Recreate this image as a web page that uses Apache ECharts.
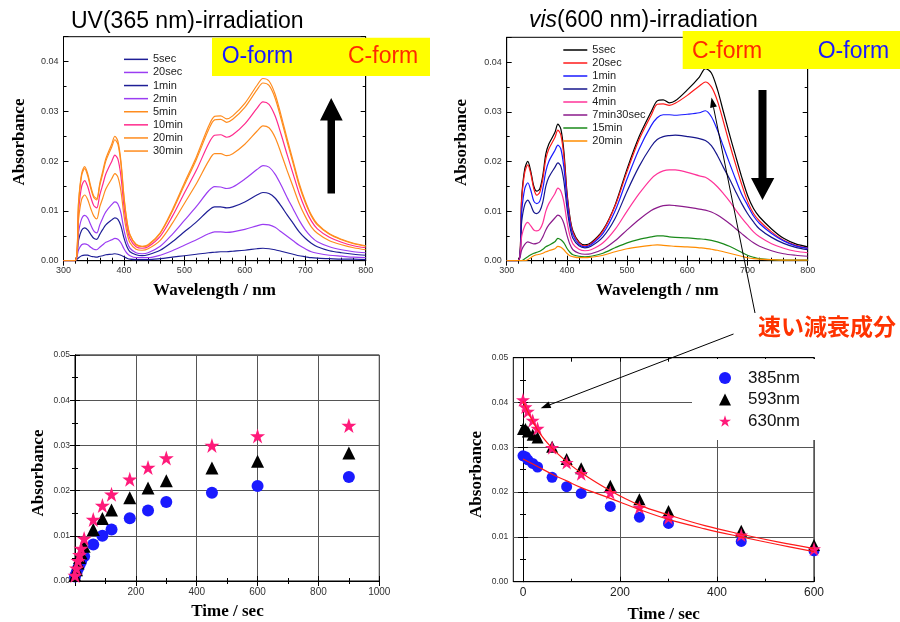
<!DOCTYPE html>
<html><head><meta charset="utf-8">
<script src="https://cdn.jsdelivr.net/npm/echarts@6/dist/echarts.min.js"></script>
<style>html,body{margin:0;padding:0;background:#fff}#c{width:900px;height:622px}</style>
</head><body><div id="c"></div>
<script>
// ---------- DATA ----------
const wavelengths = [300,319,325,330,335, 340,345,350,355,360, 365,370,380,385,390, 395,400,405,410,420, 430,440,460,480,500, 520,540,550,560,570, 580,600,620,630,640, 650,660,670,680,690, 700,710,720,740,760, 780,800];

const uvNames = ['5sec','20sec','1min','2min','5min','10min','20min','30min'];
const uv_5sec  = [0,0,0.0006,0.0010,0.0011, 0.0011,0.0009,0.0008,0.0007,0.0009, 0.0010,0.0012,0.0013,0.0014,0.0013, 0.0011,0.0008,0.0005,0.0003,0.0002, 0.0002,0.0002,0.0004,0.0007,0.0010, 0.0013,0.0016,0.0017,0.0018,0.0018, 0.0019,0.0021,0.0024,0.0025,0.0024, 0.0022,0.0019,0.0016,0.0013,0.0010, 0.0008,0.0006,0.0005,0.0004,0.0003, 0.0003,0.0002];
const uv_20sec = [0,0,0.0022,0.0032,0.0034, 0.0032,0.0027,0.0023,0.0022,0.0027, 0.0032,0.0037,0.0042,0.0045,0.0043, 0.0036,0.0024,0.0015,0.0010,0.0006, 0.0006,0.0006,0.0011,0.0020,0.0031, 0.0042,0.0054,0.0058,0.0058,0.0057, 0.0058,0.0063,0.0070,0.0073,0.0072, 0.0067,0.0058,0.0049,0.0040,0.0031, 0.0024,0.0018,0.0015,0.0011,0.0009, 0.0007,0.0006];
const uv_1min  = [0,0,0.0042,0.0061,0.0066, 0.0062,0.0053,0.0045,0.0043,0.0053, 0.0063,0.0072,0.0082,0.0086,0.0083, 0.0070,0.0046,0.0028,0.0018,0.0012, 0.0010,0.0012,0.0021,0.0038,0.0058, 0.0078,0.0101,0.0108,0.0108,0.0106, 0.0108,0.0118,0.0132,0.0137,0.0135, 0.0126,0.0110,0.0092,0.0075,0.0058, 0.0045,0.0035,0.0028,0.0020,0.0016, 0.0013,0.0011];
const uv_2min  = [0,0,0.0058,0.0084,0.0091, 0.0086,0.0072,0.0060,0.0056,0.0072, 0.0086,0.0098,0.0113,0.0118,0.0114, 0.0096,0.0062,0.0038,0.0025,0.0016, 0.0014,0.0016,0.0029,0.0053,0.0081, 0.0109,0.0140,0.0149,0.0148,0.0145, 0.0148,0.0164,0.0183,0.0191,0.0188, 0.0174,0.0152,0.0127,0.0104,0.0081, 0.0062,0.0048,0.0038,0.0028,0.0022, 0.0018,0.0016];
const uv_5min  = [0,0,0.0084,0.0123,0.0132, 0.0123,0.0105,0.0090,0.0084,0.0108, 0.0126,0.0144,0.0165,0.0175,0.0168, 0.0140,0.0091,0.0056,0.0036,0.0023, 0.0021,0.0024,0.0041,0.0075,0.0115, 0.0155,0.0200,0.0215,0.0215,0.0211, 0.0215,0.0234,0.0260,0.0271,0.0267, 0.0248,0.0216,0.0181,0.0148,0.0115, 0.0089,0.0068,0.0055,0.0040,0.0032, 0.0026,0.0022];
const uv_10min = [0,0,0.0102,0.0149,0.0161, 0.0149,0.0128,0.0111,0.0106,0.0132, 0.0153,0.0174,0.0200,0.0212,0.0204, 0.0170,0.0110,0.0068,0.0044,0.0028, 0.0025,0.0028,0.0049,0.0089,0.0136, 0.0182,0.0235,0.0252,0.0253,0.0248, 0.0253,0.0275,0.0306,0.0319,0.0314, 0.0291,0.0254,0.0213,0.0174,0.0135, 0.0104,0.0080,0.0064,0.0047,0.0037, 0.0030,0.0026];
const uv_20min = [0,0,0.0117,0.0171,0.0185, 0.0171,0.0146,0.0127,0.0122,0.0151, 0.0175,0.0200,0.0229,0.0243,0.0234, 0.0195,0.0127,0.0078,0.0051,0.0032, 0.0028,0.0031,0.0055,0.0099,0.0152, 0.0204,0.0263,0.0283,0.0284,0.0278, 0.0284,0.0308,0.0343,0.0357,0.0352, 0.0327,0.0285,0.0239,0.0195,0.0151, 0.0117,0.0090,0.0072,0.0053,0.0042, 0.0034,0.0029];
const uv_30min = [0,0,0.0120,0.0175,0.0189, 0.0175,0.0150,0.0130,0.0125,0.0155, 0.0180,0.0205,0.0235,0.0250,0.0240, 0.0200,0.0130,0.0080,0.0052,0.0033, 0.0029,0.0032,0.0056,0.0102,0.0156, 0.0209,0.0270,0.0290,0.0291,0.0285, 0.0291,0.0316,0.0352,0.0366,0.0361, 0.0335,0.0292,0.0245,0.0200,0.0155, 0.0120,0.0092,0.0074,0.0054,0.0043, 0.0035,0.0030];

const visNames = ['5sec','20sec','1min','2min','4min','7min30sec','15min','20min'];
const vis_5sec  = [0,0,0.0130,0.0185,0.0200, 0.0180,0.0150,0.0140,0.0145,0.0172, 0.0215,0.0235,0.0258,0.0275,0.0265, 0.0220,0.0140,0.0088,0.0060,0.0038, 0.0032,0.0036,0.0062,0.0112,0.0185, 0.0250,0.0300,0.0322,0.0324,0.0318, 0.0322,0.0344,0.0370,0.0387,0.0378, 0.0345,0.0300,0.0255,0.0212,0.0170, 0.0132,0.0105,0.0088,0.0064,0.0045, 0.0034,0.0028];
const vis_20sec = [0,0,0.0125,0.0178,0.0193, 0.0175,0.0145,0.0132,0.0138,0.0165, 0.0205,0.0225,0.0248,0.0263,0.0253, 0.0210,0.0135,0.0085,0.0057,0.0036, 0.0030,0.0034,0.0060,0.0110,0.0180, 0.0244,0.0293,0.0315,0.0316,0.0313, 0.0317,0.0333,0.0352,0.0360,0.0350, 0.0322,0.0280,0.0236,0.0195,0.0155, 0.0120,0.0095,0.0080,0.0058,0.0041, 0.0031,0.0025];
const vis_1min  = [0,0,0.0100,0.0145,0.0157, 0.0142,0.0120,0.0115,0.0120,0.0145, 0.0180,0.0200,0.0222,0.0233,0.0225, 0.0188,0.0125,0.0078,0.0052,0.0033, 0.0028,0.0032,0.0055,0.0100,0.0165, 0.0225,0.0272,0.0288,0.0294,0.0294, 0.0293,0.0295,0.0298,0.0302,0.0290, 0.0263,0.0230,0.0197,0.0165,0.0135, 0.0112,0.0090,0.0075,0.0055,0.0040, 0.0030,0.0025];
const vis_2min  = [0,0,0.0080,0.0113,0.0122, 0.0112,0.0098,0.0095,0.0100,0.0118, 0.0150,0.0168,0.0188,0.0197,0.0190, 0.0160,0.0108,0.0068,0.0045,0.0030, 0.0026,0.0029,0.0048,0.0085,0.0140, 0.0190,0.0230,0.0244,0.0250,0.0252, 0.0253,0.0250,0.0246,0.0242,0.0232, 0.0212,0.0188,0.0165,0.0140,0.0116, 0.0095,0.0078,0.0064,0.0047,0.0035, 0.0027,0.0022];
const vis_4min  = [0,0,0.0050,0.0070,0.0077, 0.0070,0.0062,0.0060,0.0063,0.0076, 0.0100,0.0115,0.0135,0.0146,0.0140, 0.0118,0.0080,0.0050,0.0034,0.0023, 0.0020,0.0022,0.0036,0.0063,0.0100, 0.0135,0.0165,0.0175,0.0181,0.0183, 0.0183,0.0178,0.0171,0.0168,0.0160, 0.0149,0.0135,0.0120,0.0103,0.0087, 0.0072,0.0058,0.0048,0.0034,0.0025, 0.0019,0.0016];
const vis_7min30sec = [0,0,0.0022,0.0033,0.0038, 0.0036,0.0034,0.0035,0.0038,0.0048, 0.0062,0.0072,0.0086,0.0092,0.0088, 0.0075,0.0052,0.0033,0.0022,0.0015, 0.0013,0.0014,0.0023,0.0040,0.0062, 0.0083,0.0101,0.0107,0.0111,0.0112, 0.0111,0.0108,0.0104,0.0102,0.0098, 0.0092,0.0084,0.0075,0.0065,0.0055, 0.0045,0.0036,0.0029,0.0020,0.0014, 0.0011,0.0009];
const vis_15min = [0,0,0,0.0004,0.0008, 0.0012,0.0015,0.0017,0.0019,0.0023, 0.0028,0.0031,0.0038,0.0045,0.0042, 0.0036,0.0025,0.0017,0.0012,0.0009, 0.0008,0.0009,0.0015,0.0026,0.0036, 0.0043,0.0048,0.0050,0.0050,0.0048, 0.0047,0.0046,0.0044,0.0043,0.0041, 0.0038,0.0034,0.0029,0.0023,0.0017, 0.0011,0.0007,0.0004,0.0002,0.0001, 0.0001,0.0001];
const vis_20min = [0,0,0,0,0.0002, 0.0006,0.0010,0.0012,0.0013,0.0015, 0.0018,0.0020,0.0024,0.0029,0.0027, 0.0022,0.0015,0.0010,0.0008,0.0006, 0.0006,0.0007,0.0011,0.0018,0.0024, 0.0028,0.0031,0.0032,0.0031,0.0030, 0.0029,0.0028,0.0026,0.0025,0.0023, 0.0021,0.0018,0.0015,0.0012,0.0009, 0.0006,0.0004,0.0003,0.0002,0.0001, 0.0001,0.0001];

// Kinetics under UV irradiation (bottom-left)
const uvTimes = [0,5,10,15,20,30,60,90,120,180,240,300,450,600,900];
const uvK385 = [0.0010,0.0018,0.0028,0.0036,0.0043,0.0055,0.0081,0.0100,0.0114,0.0139,0.0156,0.0175,0.0195,0.0210,0.0230];
const uvK593 = [0.0012,0.0025,0.0040,0.0052,0.0062,0.0077,0.0114,0.0138,0.0157,0.0184,0.0206,0.0222,0.0250,0.0265,0.0283];
const uvK630 = [0.0012,0.0028,0.0045,0.0058,0.0072,0.0094,0.0136,0.0167,0.0192,0.0225,0.0251,0.0272,0.0300,0.0321,0.0344];

// Kinetics under vis irradiation (bottom-right)
const visTimes = [0,5,10,20,30,60,90,120,180,240,300,450,600];
const visK385 = [0.0281,0.0279,0.0272,0.0264,0.0256,0.0233,0.0212,0.0197,0.0168,0.0144,0.0130,0.0090,0.0069];
const visK593 = [0.0341,0.0341,0.0335,0.0328,0.0322,0.0301,0.0274,0.0253,0.0214,0.0184,0.0158,0.0114,0.0082];
const visK630 = [0.0406,0.0390,0.0380,0.0360,0.0342,0.0299,0.0266,0.0241,0.0199,0.0166,0.0143,0.0104,0.0073];
const fitTimes = [0,30,60,90,120,180,240,300,375,450,525,600];
const fitUpper = [0.0402,0.0339,0.0298,0.0268,0.0243,0.0203,0.0171,0.0149,0.0125,0.0106,0.0089,0.0074];
const fitLower = [0.0274,0.0257,0.0240,0.0225,0.0210,0.0186,0.0161,0.0139,0.0118,0.0100,0.0083,0.0067];
const kinNames = ['385nm','593nm','630nm'];

// ---------- STYLE ----------
const uvColors = ['#1e1e96','#9b3df2','#1e1e96','#9b3df2','#ff8c1e','#ff2a8c','#ff8c1e','#ff8c1e'];
const visColors = ['#000000','#ff1a1a','#1a1aff','#16168c','#ff3399','#8b1a8b','#1a8a1a','#ff8c00'];
const kinColors = ['#1a1aff','#000000','#ff1a7a'];
const kinSymbols = ['circle','triangle','path://M50,0 L61.8,35.5 L99,35.5 L69,57.5 L80.5,93 L50,71 L19.5,93 L31,57.5 L1,35.5 L38.2,35.5 Z'];

const pair = (xs, ys) => xs.map((x, i) => [x, ys[i]]);
const uvArrays = [uv_5sec,uv_20sec,uv_1min,uv_2min,uv_5min,uv_10min,uv_20min,uv_30min];
const visArrays = [vis_5sec,vis_20sec,vis_1min,vis_2min,vis_4min,vis_7min30sec,vis_15min,vis_20min];

const lbl = {color:'#333', fontFamily:'Liberation Sans, Arial, sans-serif'};
const fmt2 = v => v.toFixed(2);
const tickBlack = {color:'#000', width:1};

function xMain(grid, min, max, interval, minorSplit, fs, extra) {
  return Object.assign({type:'value', gridIndex:grid, min, max, interval, position:'bottom',
    axisLine:{show:true, lineStyle:tickBlack}, axisTick:{show:true, inside:true, length:5, lineStyle:tickBlack},
    minorTick:{show:true, splitNumber:minorSplit, length:3, lineStyle:tickBlack},
    axisLabel:Object.assign({fontSize:fs, margin:5, formatter:v => String(v)}, lbl), splitLine:{show:false}}, extra||{});
}
function xTop(grid, min, max, interval, minorSplit) {
  return {type:'value', gridIndex:grid, min, max, interval, position:'top',
    axisLine:{show:true, lineStyle:tickBlack}, axisTick:{show:true, inside:true, length:5, lineStyle:tickBlack},
    minorTick:{show:true, splitNumber:minorSplit, length:3, lineStyle:tickBlack},
    axisLabel:{show:false}, splitLine:{show:false}};
}
function yAx(grid, max, pos, fs, split, showMax) {
  return {type:'value', gridIndex:grid, min:0, max, interval:0.01, position:pos,
    axisLine:{show:true, lineStyle:tickBlack}, axisTick:{show:true, inside:true, length:5, lineStyle:tickBlack},
    minorTick:{show:true, splitNumber:2, length:3, lineStyle:tickBlack},
    axisLabel: pos === 'left' ? Object.assign({fontSize:fs, margin:5, formatter:fmt2, showMaxLabel:showMax}, lbl) : {show:false},
    splitLine:{show:split, lineStyle:{color:'#555', width:1}}};
}

const series = [];
uvArrays.forEach((arr, i) => series.push({name:'uv|'+uvNames[i], type:'line', xAxisIndex:0, yAxisIndex:0,
  data:pair(wavelengths, arr), symbol:'none', smooth:0.3, lineStyle:{color:uvColors[i], width:1.2}, itemStyle:{color:uvColors[i]}}));
visArrays.forEach((arr, i) => series.push({name:'vis|'+visNames[i], type:'line', xAxisIndex:2, yAxisIndex:2,
  data:pair(wavelengths, arr), symbol:'none', smooth:0.3, lineStyle:{color:visColors[i], width:1.2}, itemStyle:{color:visColors[i]}}));
const uvK = [uvK385, uvK593, uvK630], visK = [visK385, visK593, visK630];
const sizes3 = [12, 13, 15], sizes4 = [11, 12, 14];
uvK.forEach((arr, i) => series.push({name:'k1|'+kinNames[i], type:'scatter', xAxisIndex:4, yAxisIndex:4,
  data:pair(uvTimes, arr), symbol:kinSymbols[i], symbolSize:sizes3[i], itemStyle:{color:kinColors[i], opacity:1}}));
visK.forEach((arr, i) => series.push({name:'k2|'+kinNames[i], type:'scatter', xAxisIndex:6, yAxisIndex:6,
  data:pair(visTimes, arr), symbol:kinSymbols[i], symbolSize:sizes4[i], itemStyle:{color:kinColors[i], opacity:1}}));
[fitUpper, fitLower].forEach((arr, i) => series.push({name:'fit'+i, type:'line', xAxisIndex:6, yAxisIndex:6,
  data:pair(fitTimes, arr), symbol:'none', smooth:0.4, z:5, lineStyle:{color:'#ff1a1a', width:1.2}}));

const serif = 'Liberation Serif, Times New Roman, serif';
const sans = 'Liberation Sans, Arial, sans-serif';
function axTitle(text, x, y, rot) {
  return {type:'text', x, y, rotation: rot ? Math.PI/2 : 0, z:50,
    style:{text, fill:'#000', font:'bold 17px ' + serif, align:'center', verticalAlign:'middle'}};
}
function txt(text, x, y, color, size, extra) {
  return {type:'text', x, y, z:60, style:Object.assign({text, fill:color, font:(size)+'px '+sans, align:'left', verticalAlign:'middle'}, extra||{})};
}

const option = {
  animation:false,
  backgroundColor:'#fff',
  title:[
    {text:'UV(365 nm)-irradiation', left:71, top:10, padding:0, textStyle:{fontSize:23, fontWeight:'normal', color:'#000', fontFamily:sans}},
    {text:'{i|vis}(600 nm)-irradiation', left:529, top:9, padding:0, textStyle:{fontSize:23, fontWeight:'normal', color:'#000', fontFamily:sans,
      rich:{i:{fontStyle:'italic', fontSize:23, color:'#000', fontFamily:sans}}}}
  ],
  grid:[
    {left:63.5, top:36.7, width:302.2, height:224, show:true, borderColor:'#000', borderWidth:1},
    {left:506.7, top:37.3, width:301, height:223.4, show:true, borderColor:'#000', borderWidth:1},
    {left:75, top:355, width:304.3, height:226, show:true, borderColor:'#000', borderWidth:1},
    {left:513.3, top:357.7, width:300.7, height:224, show:true, borderColor:'#000', borderWidth:1}
  ],
  xAxis:[
    xMain(0, 300, 800, 100, 5, 9),
    xTop(0, 300, 800, 100, 5),
    xMain(1, 300, 800, 100, 5, 9),
    xTop(1, 300, 800, 100, 5),
    xMain(2, 0, 1000, 200, 2, 10, {axisLabel:Object.assign({fontSize:10, margin:6, showMinLabel:false, formatter:v => String(v)}, lbl), splitLine:{show:true, lineStyle:{color:'#555'}}}),
    xTop(2, 0, 1000, 200, 2),
    {type:'value', gridIndex:3, min:-20, max:600, position:'bottom',
      axisLine:{show:true, lineStyle:tickBlack},
      axisTick:{show:true, inside:true, length:5, customValues:[0,200,400,600], lineStyle:tickBlack},
      axisLabel:Object.assign({fontSize:12, margin:5, customValues:[0,200,400,600], formatter:v => String(v)}, lbl, {color:'#222'}),
      splitLine:{show:true, lineStyle:{color:'#555'}}},
    {type:'value', gridIndex:3, min:-20, max:600, position:'bottom',
      axisLine:{show:false}, axisTick:{show:true, inside:true, length:3, customValues:[100,300,500], lineStyle:tickBlack},
      axisLabel:{show:false}, splitLine:{show:false}},
    {type:'value', gridIndex:3, min:-20, max:600, position:'top',
      axisLine:{show:true, lineStyle:tickBlack}, axisTick:{show:true, inside:true, length:4, customValues:[0,100,200,300,400,500,600], lineStyle:tickBlack},
      axisLabel:{show:false}, splitLine:{show:false}}
  ],
  yAxis:[
    yAx(0, 0.045, 'left', 9, false, false),
    yAx(0, 0.045, 'right', 9, false, false),
    yAx(1, 0.045, 'left', 9, false, false),
    yAx(1, 0.045, 'right', 9, false, false),
    yAx(2, 0.05, 'left', 8.5, true, true),
    yAx(2, 0.05, 'right', 8.5, false, true),
    yAx(3, 0.05, 'left', 8.5, true, true),
    yAx(3, 0.05, 'right', 8.5, false, true)
  ],
  legend:[
    {data:uvNames.map(n => 'uv|'+n), orient:'vertical', left:124, top:52.8, padding:0, icon:'rect', itemWidth:24, itemHeight:1.5, itemGap:0,
      selectedMode:false, formatter:n => n.split('|')[1], textStyle:{fontSize:11, lineHeight:13.1, color:'#222', fontFamily:sans}},
    {data:visNames.map(n => 'vis|'+n), orient:'vertical', left:563.3, top:43.5, padding:0, icon:'rect', itemWidth:24, itemHeight:1.5, itemGap:0,
      selectedMode:false, formatter:n => n.split('|')[1], textStyle:{fontSize:11, lineHeight:13, color:'#222', fontFamily:sans}},
    {data:kinNames.map(n => 'k2|'+n), orient:'vertical', left:692, top:359, padding:[9,18,9,27], itemWidth:12, itemHeight:12, itemGap:1.5,
      backgroundColor:'#fff', z:20, selectedMode:false, formatter:n => n.split('|')[1],
      textStyle:{fontSize:17, lineHeight:20, color:'#111', fontFamily:sans, padding:[0,0,0,12]}}
  ],
  graphic:[
    {type:'rect', shape:{x:212, y:37.7, width:218, height:38.3}, style:{fill:'#ffff00'}, z:55},
    txt('O-form', 221.7, 57, '#1a1aff', 23),
    txt('C-form', 348, 57, '#ff2a00', 23),
    {type:'rect', shape:{x:682.7, y:31, width:217.3, height:38}, style:{fill:'#ffff00'}, z:55},
    txt('C-form', 692, 51.5, '#ff2a00', 23),
    txt('O-form', 817.7, 51.5, '#1a1aff', 23),
    {type:'polygon', z:60, shape:{points:[[327.5,193.5],[335,193.5],[335,120.5],[342.7,120.5],[331.2,98],[320,120.5],[327.5,120.5]]}, style:{fill:'#000'}},
    {type:'polygon', z:60, shape:{points:[[758.5,90],[766.5,90],[766.5,178],[774.3,178],[762.5,200],[751,178],[758.5,178]]}, style:{fill:'#000'}},
    {type:'line', z:60, shape:{x1:755, y1:313, x2:713.5, y2:107.3}, style:{stroke:'#000', lineWidth:1}},
    {type:'polygon', z:60, shape:{points:[[711.5,97.5],[716.9,106.6],[710.1,108.0]]}, style:{fill:'#000'}},
    {type:'line', z:60, shape:{x1:733.5, y1:334, x2:550, y2:404.7}, style:{stroke:'#000', lineWidth:1}},
    {type:'polygon', z:60, shape:{points:[[540.7,408.3],[548.7,401.4],[551.3,408.0]]}, style:{fill:'#000'}},
    {type:'text', x:827, y:326, z:60, style:{text:'速い減衰成分', fill:'#ff3300', font:'bold 23px "Noto Sans CJK JP", sans-serif', align:'center', verticalAlign:'middle'}},
    axTitle('Absorbance', 19.5, 142, true),
    axTitle('Wavelength / nm', 214.5, 291, false),
    axTitle('Absorbance', 462, 142.5, true),
    axTitle('Wavelength / nm', 657.3, 291, false),
    axTitle('Absorbance', 39, 473, true),
    axTitle('Time / sec', 227.5, 611.5, false),
    axTitle('Absorbance', 477, 474.5, true),
    axTitle('Time / sec', 663.7, 614.5, false)
  ],
  series
};
const chart = echarts.init(document.getElementById('c'), null, {renderer:'canvas'});
chart.setOption(option);
</script></body></html>
